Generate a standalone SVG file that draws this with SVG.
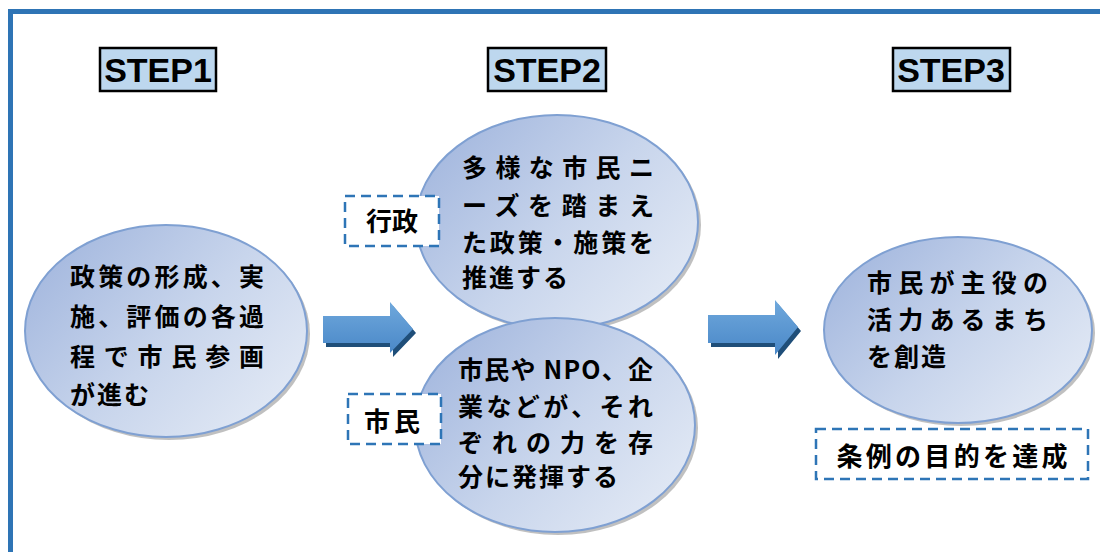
<svg xmlns="http://www.w3.org/2000/svg" width="1100" height="552" viewBox="0 0 1100 552">
<style>
.step{fill:#BDD7EE;stroke:#000;stroke-width:2.5}
.stept{font-family:"Liberation Sans",Arial,sans-serif;font-weight:700;font-size:34px;fill:#000;text-anchor:middle}
.ell{fill:url(#eg);stroke:#7FA0D2;stroke-width:2}
.sh{fill:#8C8C8C;opacity:0.55}
.jt{font-family:"Noto Sans CJK JP","Noto Sans CJK SC",sans-serif;font-weight:700;font-size:25px;fill:#000;letter-spacing:2px}
.jtj{font-family:"Noto Sans CJK JP","Noto Sans CJK SC",sans-serif;font-weight:700;font-size:25px;fill:#000}
.lbl{font-family:"Noto Sans CJK JP","Noto Sans CJK SC",sans-serif;font-weight:700;font-size:26px;fill:#000}
.dash{fill:#fff;stroke:#2E75B6;stroke-width:2.5;stroke-dasharray:10 6}
.arr{fill:url(#ag)}
.arrs{fill:#1F4E79}
</style>
<defs>
<linearGradient id="eg" x1="0" y1="0.2" x2="1" y2="0.9">
<stop offset="0" stop-color="#A3B7DE"/>
<stop offset="0.5" stop-color="#C8D5EC"/>
<stop offset="1" stop-color="#E6ECF6"/>
</linearGradient>
<linearGradient id="ag" x1="0" y1="0" x2="0" y2="1">
<stop offset="0" stop-color="#6FA8DC"/>
<stop offset="1" stop-color="#4A88C8"/>
</linearGradient>
</defs>
<path d="M10.5,552 V11.5 H1100" fill="none" stroke="#2E74B5" stroke-width="5"/>

<g id="step1"><rect class="step" x="100" y="48" width="116" height="43"/><text class="stept" x="158" y="82">STEP1</text></g>
<g id="step2"><rect class="step" x="488" y="48" width="118" height="43"/><text class="stept" x="547" y="82">STEP2</text></g>
<g id="step3"><rect class="step" x="893" y="48" width="117" height="43"/><text class="stept" x="951" y="82">STEP3</text></g>

<g id="connectors">
<path class="arrs" d="M326,320 H393 V306 L416,333 L393,357 V347 H326 Z"/>
<path class="arr" d="M323,316 H390 V302 L413,329 L390,353 V343 H323 Z"/>
<path class="arrs" d="M711,319 H778 V304 L801,331 L778,359 V347 H711 Z"/>
<path class="arr" d="M708,315 H775 V300 L798,327 L775,355 V343 H708 Z"/>
</g>

<g id="node1">
<ellipse class="sh" cx="169" cy="334" rx="141" ry="106"/>
<ellipse class="ell" cx="166" cy="331" rx="141" ry="106"/>
<text class="jtj" x="70" y="286" textLength="194" lengthAdjust="spacing">政策の形成、実</text>
<text class="jtj" x="70" y="326" textLength="194" lengthAdjust="spacing">施、評価の各過</text>
<text class="jtj" x="70" y="366" textLength="194" lengthAdjust="spacing">程で市民参画</text>
<text class="jt" x="70" y="404">が進む</text>
</g>

<g id="node2">
<ellipse class="sh" cx="560" cy="225" rx="141" ry="107"/>
<ellipse class="ell" cx="557" cy="222" rx="141" ry="107"/>
<text class="jtj" x="462" y="177" textLength="192" lengthAdjust="spacing">多様な市民ニ</text>
<text class="jtj" x="462" y="215" textLength="192" lengthAdjust="spacing">ーズを踏まえ</text>
<text class="jtj" x="462" y="252" textLength="192" lengthAdjust="spacing">た政策・施策を</text>
<text class="jt" x="462" y="287">推進する</text>
</g>

<g id="node3">
<ellipse class="sh" cx="558" cy="428" rx="140" ry="107"/>
<ellipse class="ell" cx="555" cy="425" rx="140" ry="107"/>
<text class="jtj" x="458" y="379" textLength="195" lengthAdjust="spacing">市民や NPO、企</text>
<text class="jtj" x="458" y="416" textLength="195" lengthAdjust="spacing">業などが、それ</text>
<text class="jtj" x="458" y="452" textLength="195" lengthAdjust="spacing">ぞれの力を存</text>
<text class="jt" x="458" y="486">分に発揮する</text>
</g>

<g id="node4">
<ellipse class="sh" cx="961" cy="333" rx="134" ry="93"/>
<ellipse class="ell" cx="958" cy="330" rx="134" ry="93"/>
<text class="jtj" x="867" y="292" textLength="181" lengthAdjust="spacing">市民が主役の</text>
<text class="jtj" x="867" y="329" textLength="181" lengthAdjust="spacing">活力あるまち</text>
<text class="jt" x="867" y="366">を創造</text>
</g>

<g id="label-gyosei"><rect class="dash" x="345" y="196" width="94" height="50"/><text class="lbl" x="392" y="231" text-anchor="middle">行政</text></g>
<g id="label-shimin"><rect class="dash" x="348" y="394" width="93" height="50"/><text class="lbl" x="394" y="431" text-anchor="middle" letter-spacing="4">市民</text></g>
<g id="label-goal"><rect class="dash" x="816" y="429" width="272" height="50"/><text class="lbl" x="952" y="466" text-anchor="middle" textLength="231" lengthAdjust="spacing">条例の目的を達成</text></g>
</svg>
